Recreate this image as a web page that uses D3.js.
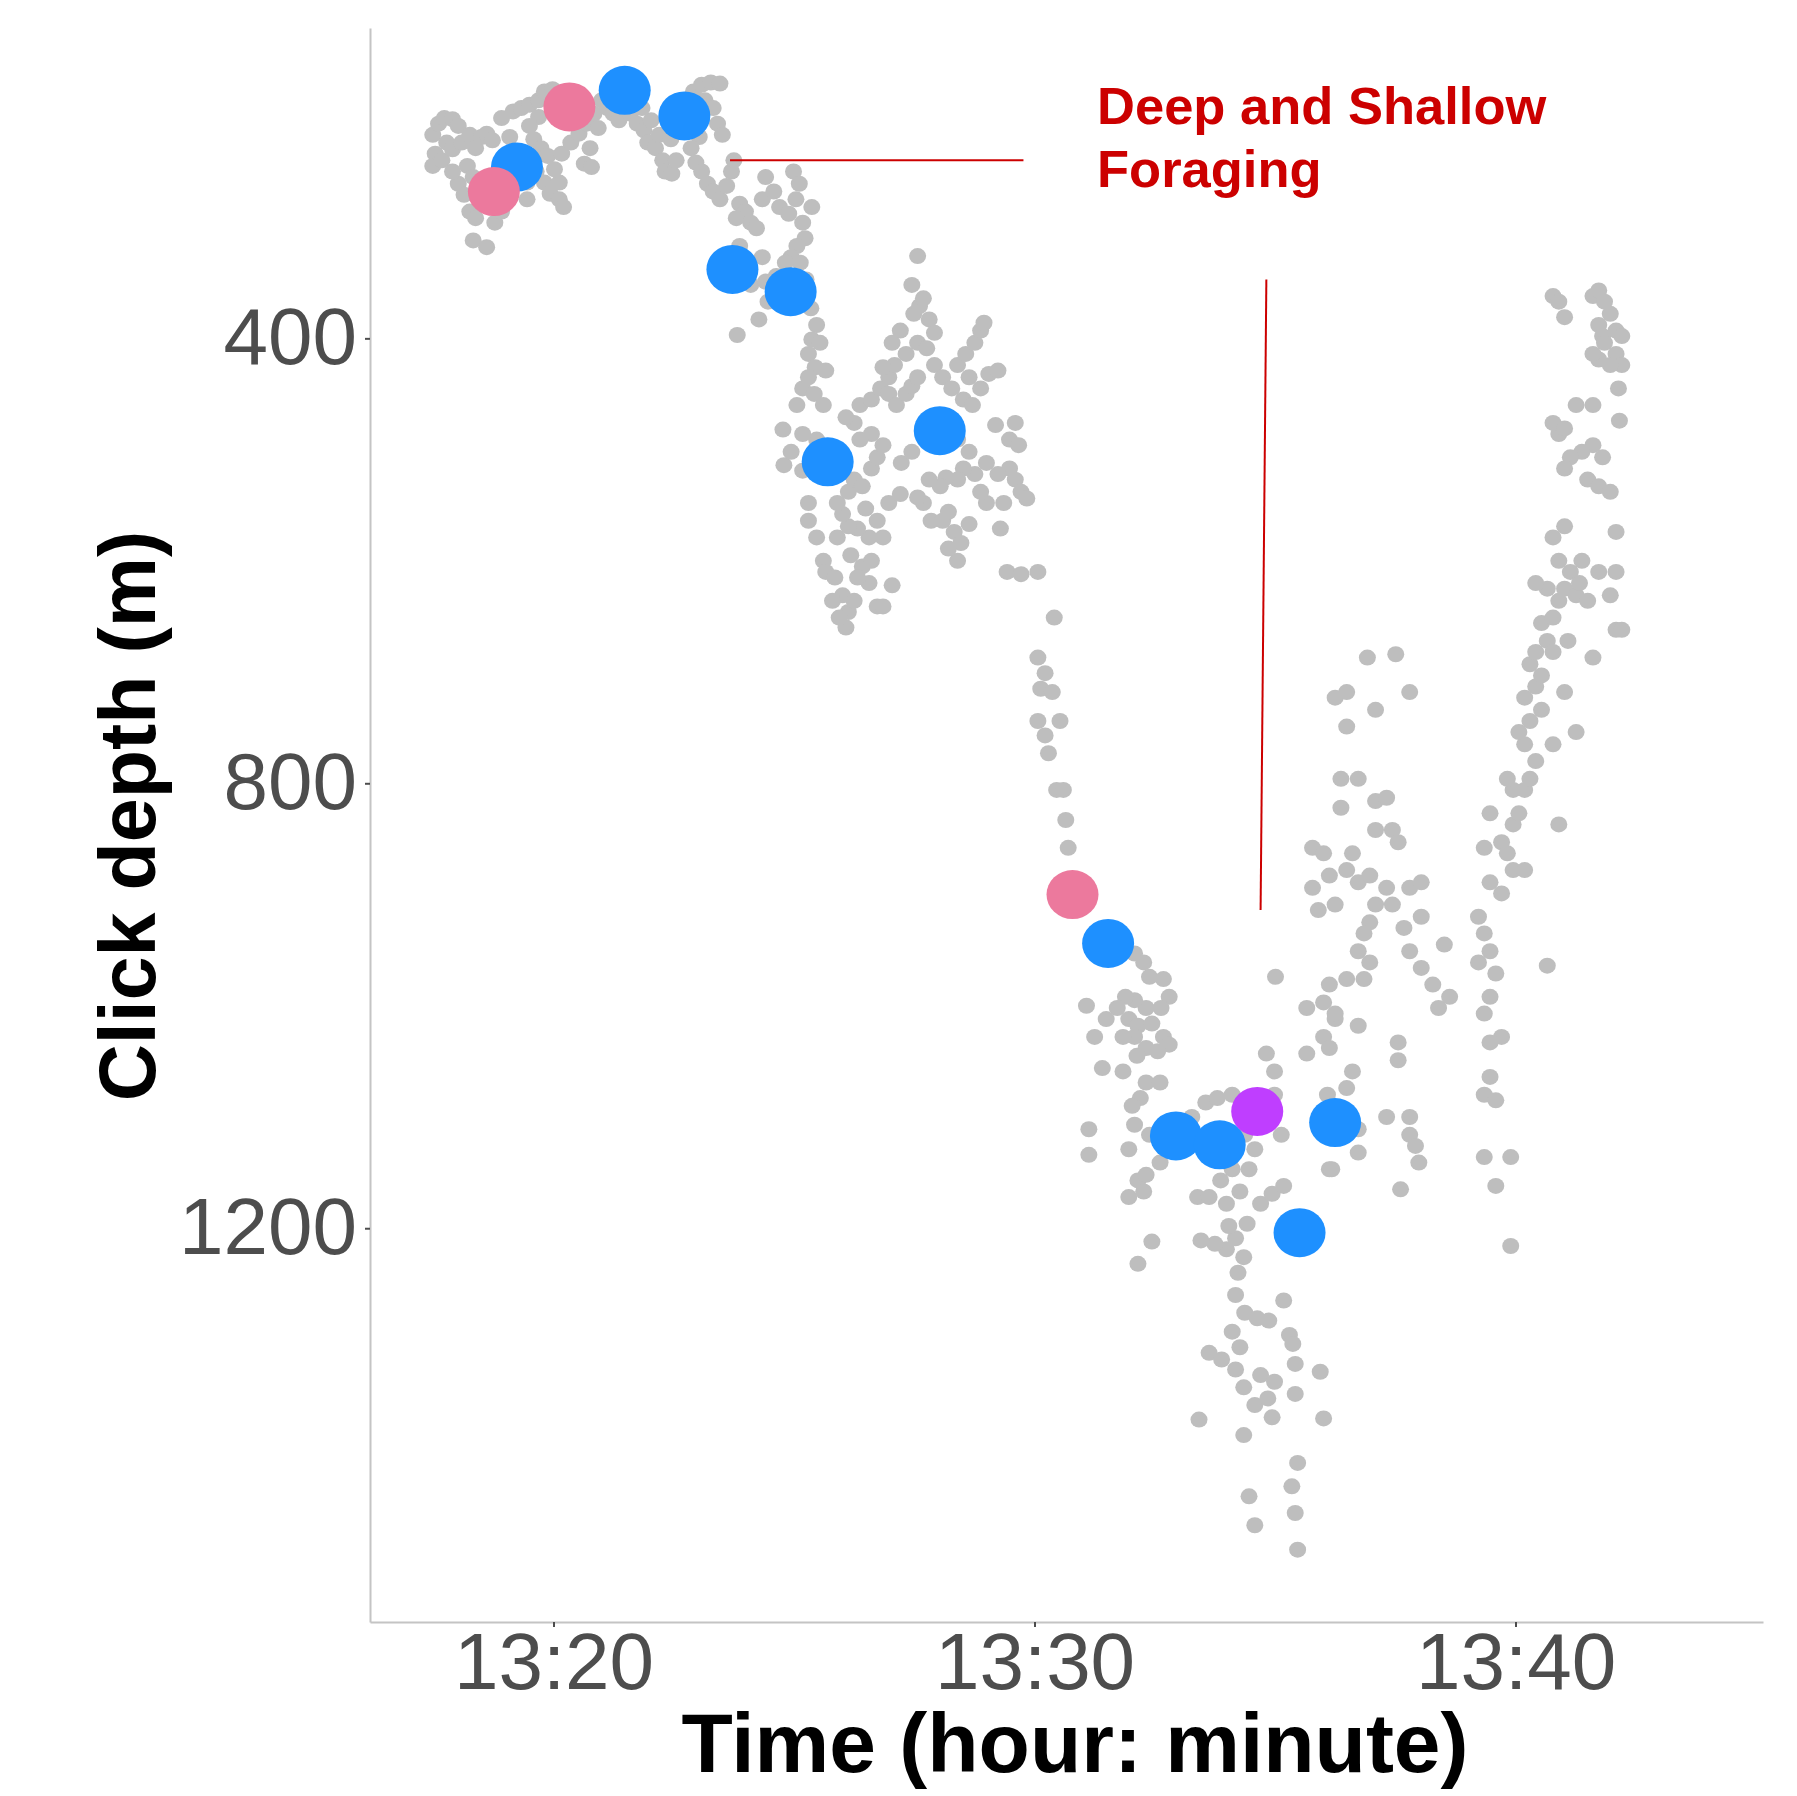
<!DOCTYPE html>
<html>
<head>
<meta charset="utf-8">
<script src="https://cdn.jsdelivr.net/npm/d3@7"></script>
<style>
  html, body { margin: 0; padding: 0; background: #ffffff; }
  svg { display: block; font-family: "Liberation Sans", Arial, sans-serif; }
</style>
</head>
<body>
<svg id="chart" width="1797" height="1796"></svg>
<script>
// time = minutes after 13:00, depth in metres
const xTicks = [20, 30, 40]
const yTicks = [400, 800, 1200]

// all echolocation clicks (grey)
const greyClicks = [
  // first descent, near surface
  [17.49,217],[17.61,207],[17.73,202],[17.90,203],[18.02,209],[17.78,224],[17.54,234],[17.49,245],[17.68,240],[17.90,230],
  [18.09,224],[18.26,217],[18.38,229],[18.50,219],[18.61,216],[18.73,222],[18.21,245],[18.33,255],[18.02,261],[18.14,271],
  [17.90,250],[18.45,260],[18.54,279],[18.26,286],[18.38,292],[18.33,312],[18.61,318],[18.78,296],[18.92,286],[18.97,270],
  [19.09,219],[18.92,202],[19.16,196],[19.33,193],[19.50,190],[19.69,186],[19.81,178],[19.98,176],[20.07,186],[19.69,201],
  [19.50,209],[19.59,221],[19.74,229],[19.88,236],[19.64,250],[19.81,260],[19.93,270],[20.12,275],[20.21,282],[20.12,260],
  [20.02,248],[20.17,234],[20.36,224],[20.53,216],[20.69,207],[20.84,198],[20.93,211],[20.76,229],[20.64,243],[20.79,246],
  [21.00,186],[21.12,193],[21.24,198],[21.36,204],[19.33,236],[19.45,260],[19.45,275],
  // descending band
  [21.60,198],[21.74,207],[21.88,213],[21.96,224],[22.12,229],[22.27,240],[22.32,250],[22.46,252],[22.55,240],[22.20,217],
  [22.03,204],[21.84,193],[22.44,221],[22.79,186],[22.91,178],[23.08,172],[23.27,170],[23.46,171],[23.15,186],[23.32,193],
  [23.41,207],[23.51,217],[23.03,219],[22.86,229],[22.96,242],[23.08,250],[23.20,261],[23.32,268],[23.46,275],[23.60,263],
  [23.70,250],[23.75,240],[23.87,279],[23.99,286],[23.80,292],[24.10,296],[24.22,301],[24.34,275],[24.41,255],[24.58,268],
  [24.70,282],[24.99,250],[25.11,261],[25.04,275],[24.89,288],[25.18,296],[25.37,282],[25.23,310],[25.06,317],[24.94,327],
  [25.13,332],[25.25,347],[25.18,364],[25.35,373],[25.47,388],[25.37,401],[25.54,404],[25.30,414],[25.44,426],[25.66,429],
  [23.87,317],[24.10,352],[23.82,397],[24.27,383],[24.46,367],[24.63,344],[24.82,332],[24.34,327],[24.41,349],
  // mid-water patch
  [24.77,482],[24.79,514],[25.18,445],[25.06,460],[25.30,435],[25.42,450],[25.61,460],[25.18,519],[25.30,548],[25.30,564],
  [25.47,579],[25.61,600],[25.66,610],[25.85,615],[26.01,631],[26.13,646],[26.08,660],[26.25,636],[26.42,605],[26.56,620],
  [26.73,641],[26.85,641],[27.04,622],[26.56,579],[26.32,571],[26.13,569],[26.01,558],[25.90,548],[26.13,538],[26.25,527],
  [26.42,533],[26.61,517],[26.73,507],[26.85,496],[26.61,486],[26.37,491],[26.25,476],[26.08,471],[26.37,460],[26.61,455],
  [26.80,445],[26.97,435],[27.09,424],[27.33,414],[27.57,404],[27.21,393],[27.04,404],[26.85,426],[26.97,450],[27.13,460],
  [27.33,450],[27.45,443],[27.57,435],[27.49,378],[27.61,371],[27.69,364],[27.45,352],[27.57,326],[27.81,383],[27.92,395],
  [27.76,409],[27.92,424],[28.09,435],[28.28,445],[28.40,424],[28.57,414],[28.76,404],[28.88,393],[28.95,386],[28.64,435],
  [28.52,455],[28.71,460],[28.88,445],[29.05,432],[29.24,429],[29.19,478],[29.48,491],[29.60,476],[29.67,496],[29.48,517],
  [29.60,527],[29.72,538],[29.84,544],[29.36,548],[29.29,571],[29.00,548],[28.88,538],[28.76,522],[28.52,517],[28.40,527],
  [28.16,525],[28.04,533],[27.81,527],[27.69,548],[27.57,543],[27.85,564],[28.09,564],[28.21,556],[28.33,574],[28.47,584],
  [28.40,600],[28.21,589],[28.64,567],[29.43,610],[29.72,612],[30.07,610],[25.90,579],[26.18,595],[26.49,553],[26.73,564],
  [26.97,548],[27.21,540],[25.90,517],[25.71,502],[25.47,491],[25.18,486],[24.94,502],[27.23,512],[27.45,502],[27.69,486],
  [27.92,471],[28.16,478],[28.40,491],[28.64,502],[29.00,512],[29.24,522],[26.61,600],[26.85,579],[26.32,615],[25.80,636],
  [25.94,651],
  // second descent
  [30.41,651],[30.07,687],[30.22,701],[30.13,715],[30.37,718],[30.07,744],[30.22,757],[30.53,744],[30.29,773],[30.46,806],
  [30.60,806],[30.65,833],[30.70,858],
  // deep foraging
  [32.08,953],[32.27,961],[32.39,974],[32.68,976],[32.80,992],[32.63,1002],[32.32,1002],[32.08,995],[31.89,992],[31.72,1002],
  [31.96,1012],[32.15,1018],[32.44,1016],[32.68,1028],[32.80,1035],[32.56,1041],[32.32,1038],[32.08,1028],[31.84,1028],[31.49,1012],
  [31.08,1000],[31.25,1028],[31.41,1056],[31.84,1059],[32.13,1045],[32.32,1069],[32.61,1069],[32.20,1083],[32.03,1090],[32.08,1107],
  [32.39,1116],[31.96,1129],[32.15,1157],[32.27,1167],[31.96,1172],[32.44,1212],[32.15,1232],[31.13,1111],[31.13,1134],[32.92,1126],
  [32.61,1141],[32.32,1152],
  [33.27,1100],[33.56,1087],[33.80,1083],[34.11,1080],[34.30,1090],[34.46,1083],[34.37,1116],[34.58,1129],[34.46,1147],[34.11,1147],
  [33.87,1157],[33.39,1172],[33.63,1172],[33.99,1178],[34.27,1167],[34.70,1178],[34.94,1169],[35.18,1162],[34.82,1043],[34.99,1059],
  [34.99,1080],[35.13,1116],[35.01,974],
  [34.42,1196],[34.18,1209],[34.04,1198],[33.99,1219],[34.35,1226],[34.23,1240],[34.18,1260],[34.37,1276],[34.63,1281],[34.87,1283],
  [34.11,1293],[34.27,1307],[34.70,1332],[34.99,1338],[35.30,1296],[35.42,1322],[35.18,1265],[35.37,1304],[33.63,1312],[33.89,1318],
  [34.18,1327],[34.35,1343],[34.58,1359],[34.85,1353],[34.35,1386],[33.42,1372],[34.94,1370],[35.42,1349],[35.94,1329],[36.01,1371],
  [35.47,1411],[35.35,1432],[34.46,1441],[34.58,1467],[35.42,1456],[35.47,1489],[33.75,1214],[33.46,1211],[36.13,1147],[36.73,1132],
  // first ascent
  [36.25,723],[36.49,718],[36.92,687],[37.51,684],[37.80,718],[37.09,734],[36.49,749],[36.37,796],[36.73,796],[37.09,816],
  [37.32,813],[36.37,822],[35.78,858],[36.01,863],[36.61,863],[37.09,842],[37.44,842],[37.56,853],[36.49,878],[36.13,883],
  [35.78,894],[35.90,914],[36.25,909],[36.73,889],[36.97,883],[37.09,909],[37.32,894],[37.44,909],[37.80,894],[38.04,889],
  [37.68,930],[38.04,920],[37.80,951],[38.04,966],[38.28,981],[38.40,1002],[38.63,992],[38.52,945],[36.97,925],[36.85,935],
  [36.73,951],[36.97,961],[36.85,976],[36.49,976],[36.13,981],[36.01,997],[35.66,1002],[36.25,1012],[36.73,1018],[36.01,1028],
  [36.13,1038],[36.61,1059],[36.49,1074],[36.73,1111],[37.32,1100],[37.56,1033],[37.56,1049],[37.80,1100],[37.80,1116],[37.92,1126],
  [37.99,1141],[37.61,1165],[36.18,1147],[36.25,1007],[36.09,1080],[35.66,1043],[36.49,1095],
  // final ascent
  [39.47,827],[39.35,858],[39.71,853],[39.47,889],[39.71,899],[39.23,920],[39.35,935],[39.47,951],[39.23,961],[39.59,971],
  [39.47,992],[39.35,1007],[39.71,1028],[39.47,1033],[39.47,1064],[39.35,1080],[39.59,1085],[39.35,1136],[39.90,1136],[39.59,1162],
  [39.90,1216],[40.66,964],[39.95,878],[40.19,878],[39.83,863],[39.95,837],[40.07,827],[40.19,806],[40.30,796],[39.95,806],
  [39.83,796],[40.42,780],[40.19,765],[40.07,754],[40.30,744],[40.54,734],[40.19,723],[40.42,713],[40.54,703],[40.30,693],
  [40.42,682],[40.66,672],[40.54,656],[40.78,651],[40.90,636],[40.66,625],[40.42,620],[41.02,625],[41.26,631],[41.50,636],
  [41.14,610],[40.90,600],[40.78,579],[41.02,569],[41.38,600],[41.33,620],[41.73,610],[42.09,610],[41.97,631],[42.09,662],
  [42.21,662],[41.61,687],[41.02,718],[41.26,754],[40.78,765],[40.90,837],[41.50,527],[41.73,533],[41.61,496],[41.38,502],
  [41.14,507],[41.02,517],[40.90,486],[40.78,476],[41.02,481],[41.26,460],[41.61,460],[41.81,507],[41.97,538],[42.09,574],
  [40.78,362],[40.90,367],[41.02,381],[41.61,362],[41.73,357],[41.85,367],[41.97,378],[41.73,388],[41.81,398],[41.85,404],
  [42.09,393],[42.21,398],[42.09,414],[42.21,424],[41.97,424],[41.73,419],[41.61,414],[42.14,445],[42.16,474],[40.78,682],
  [41.09,672]
]

// classified clicks (large markers)
const blueClicks = [
  [19.24,246],[21.48,177],[22.72,200],[23.72,338],[24.93,358],[25.70,511],[28.03,483],
  [31.53,944],[32.94,1117],[33.85,1125],[36.25,1105],[35.51,1204]
]
const pinkClicks = [[18.76,268],[20.33,192],[30.79,900]]
const purpleClicks = [[34.63,1095]]

// annotation
const noteLines = ['Deep and Shallow', 'Foraging']
const notePos = [31.30, 207]
const noteSegments = [
  [[23.67,240],[29.77,240]],
  [[34.82,347],[34.70,914]]
]

const svg = d3.select('#chart')
const W = 1797, H = 1796
const margin = { left: 370, top: 28, right: 34, bottom: 174 }

svg.append('rect').attr('width', W).attr('height', H).attr('fill', '#ffffff')

const t0 = new Date(2019, 0, 1, 13, 0, 0)
const toDate = m => new Date(t0.getTime() + m * 60000)

const x = d3.scaleTime()
    .domain([toDate(16.185), toDate(45.145)])
    .range([margin.left, W - margin.right])

const y = d3.scaleLinear()
    .domain([121, 1554])
    .range([margin.top, H - margin.bottom])

// axes
const xAxis = svg.append('g')
    .attr('transform', `translate(0,${H - margin.bottom})`)
    .call(d3.axisBottom(x)
        .tickValues(xTicks.map(toDate))
        .tickFormat(d3.timeFormat('%H:%M'))
        .tickSize(5)
        .tickSizeOuter(0)
        .tickPadding(5))

const yAxis = svg.append('g')
    .attr('transform', `translate(${margin.left},0)`)
    .call(d3.axisLeft(y)
        .tickValues(yTicks)
        .tickFormat(d3.format('d'))
        .tickSize(5)
        .tickSizeOuter(0)
        .tickPadding(8))

;[xAxis, yAxis].forEach(g => {
    g.select('.domain').attr('stroke', '#c4c4c4').attr('stroke-width', 2)
    g.selectAll('.tick line').attr('stroke', '#4d4d4d').attr('stroke-width', 2)
    g.selectAll('.tick text')
        .attr('fill', '#4d4d4d')
        .attr('font-size', 80)
        .attr('font-family', '"Liberation Sans", Arial, sans-serif')
})

// points
const pointLayer = svg.append('g')

pointLayer.selectAll('ellipse.grey')
    .data(greyClicks)
    .enter()
    .append('ellipse')
    .attr('class', 'grey')
    .attr('cx', d => x(toDate(d[0])))
    .attr('cy', d => y(d[1]))
    .attr('rx', 8.5)
    .attr('ry', 8)
    .attr('fill', '#bebebe')

const bigGroups = [
    { data: blueClicks, color: '#1e90ff' },
    { data: pinkClicks, color: '#ec799d' },
    { data: purpleClicks, color: '#bf3eff' }
]

bigGroups.forEach(grp => {
    pointLayer.append('g')
        .selectAll('ellipse')
        .data(grp.data)
        .enter()
        .append('ellipse')
        .attr('cx', d => x(toDate(d[0])))
        .attr('cy', d => y(d[1]))
        .attr('rx', 26)
        .attr('ry', 24.5)
        .attr('fill', grp.color)
})

// annotation lines and label
svg.append('g')
    .selectAll('line')
    .data(noteSegments)
    .enter()
    .append('line')
    .attr('x1', d => x(toDate(d[0][0])))
    .attr('y1', d => y(d[0][1]))
    .attr('x2', d => x(toDate(d[1][0])))
    .attr('y2', d => y(d[1][1]))
    .attr('stroke', '#cc0000')
    .attr('stroke-width', 2)

svg.append('text')
    .attr('x', x(toDate(notePos[0])))
    .attr('y', y(notePos[1]))
    .attr('fill', '#cc0000')
    .attr('font-size', 52.5)
    .attr('font-weight', 'bold')
    .selectAll('tspan')
    .data(noteLines)
    .enter()
    .append('tspan')
    .attr('x', x(toDate(notePos[0])))
    .attr('dy', (d, i) => i === 0 ? 0 : 63)
    .text(d => d)

// axis titles
svg.append('text')
    .attr('x', 1075)
    .attr('y', 1772)
    .attr('text-anchor', 'middle')
    .attr('font-size', 84)
    .attr('font-weight', 'bold')
    .attr('fill', '#000000')
    .text('Time (hour: minute)')

svg.append('text')
    .attr('transform', 'translate(155,816) rotate(-90)')
    .attr('text-anchor', 'middle')
    .attr('font-size', 79)
    .attr('font-weight', 'bold')
    .attr('fill', '#000000')
    .text('Click depth (m)')
</script>
</body>
</html>
